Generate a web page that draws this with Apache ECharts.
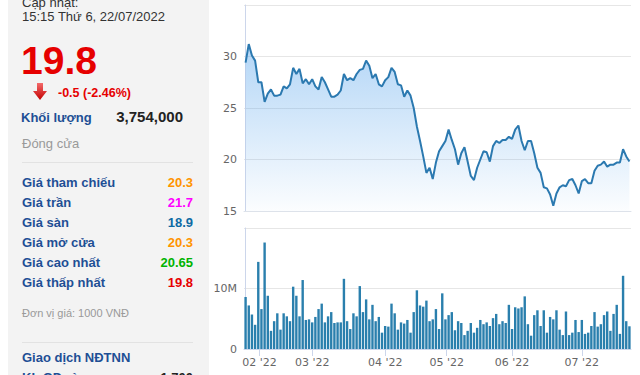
<!DOCTYPE html>
<html>
<head>
<meta charset="utf-8">
<script src="https://cdn.jsdelivr.net/npm/echarts@6/dist/echarts.min.js"></script>
<style>
  html,body{margin:0;padding:0;width:640px;height:375px;overflow:hidden;background:#fff;}
  #chart{position:absolute;left:0;top:0;width:640px;height:375px;}
  #panel{position:absolute;left:8px;top:0;width:201px;height:375px;background:#f3f3f3;}
  .t{position:absolute;white-space:nowrap;font-family:Arial,"Liberation Sans",sans-serif;}
  .lbl{font-size:13px;line-height:13px;font-weight:bold;color:#1e4f95;left:22px;}
  .val{font-size:13px;line-height:13px;font-weight:bold;right:447px;text-align:right;}
  .hr{position:absolute;left:22px;width:171px;height:1px;background:#e2e2e2;}
</style>
</head>
<body>
<div id="chart"></div>
<div id="panel"></div>
<div class="t" style="left:22px;top:-4px;font-size:13px;line-height:13px;color:#333;">Cập nhật:</div>
<div class="t" style="left:22px;top:10px;font-size:13px;line-height:13px;color:#333;">15:15 Thứ 6, 22/07/2022</div>
<div class="t" style="left:21px;top:41px;font-size:39px;line-height:39px;font-weight:bold;color:#e60000;">19.8</div>
<svg style="position:absolute;left:32px;top:82px;" width="16" height="19" viewBox="0 0 16 19">
  <defs><linearGradient id="ag" x1="0" y1="0" x2="0" y2="1"><stop offset="0" stop-color="#f36a6a"/><stop offset="1" stop-color="#c40000"/></linearGradient></defs>
  <polygon points="5,1 11,1 11,9 15,9 8,18 1,9 5,9" fill="url(#ag)"/>
</svg>
<div class="t" style="left:58px;top:86.5px;font-size:12.5px;line-height:12.5px;font-weight:bold;color:#e60000;">-0.5 (-2.46%)</div>
<div class="t lbl" style="top:111px;left:21px;">Khối lượng</div>
<div class="t" style="right:457px;top:109px;font-size:15px;line-height:15px;font-weight:bold;color:#222;">3,754,000</div>
<div class="t" style="left:22px;top:137px;font-size:13px;line-height:13px;color:#999;">Đóng cửa</div>
<div class="hr" style="top:162px;"></div>
<div class="t lbl" style="top:176px;">Giá tham chiếu</div>
<div class="t val" style="top:176px;color:#ff9400;">20.3</div>
<div class="t lbl" style="top:196px;">Giá trần</div>
<div class="t val" style="top:196px;color:#ff00ff;">21.7</div>
<div class="t lbl" style="top:216px;">Giá sàn</div>
<div class="t val" style="top:216px;color:#0e6aa3;">18.9</div>
<div class="t lbl" style="top:236px;">Giá mở cửa</div>
<div class="t val" style="top:236px;color:#ff9400;">20.3</div>
<div class="t lbl" style="top:256px;">Giá cao nhất</div>
<div class="t val" style="top:256px;color:#00b300;">20.65</div>
<div class="t lbl" style="top:276px;">Giá thấp nhất</div>
<div class="t val" style="top:276px;color:#e60000;">19.8</div>
<div class="t" style="left:22px;top:308px;font-size:11px;line-height:11px;color:#999;">Đơn vị giá: 1000 VNĐ</div>
<div class="hr" style="top:342px;"></div>
<div class="t lbl" style="top:351px;">Giao dịch NĐTNN</div>
<div class="t lbl" style="top:371px;">KL GD ròng</div>
<div class="t val" style="top:371px;color:#222;">-1,700</div>
<script>
// Daily closing price (thousand VND), trading days from late Jan 2022 to 22/07/2022
const prices = [29.4,31.2,30.1,29.6,27.5,27.5,25.6,26.4,26.8,26.2,
  26.2,26.3,27.1,26.9,27.3,28.9,28.3,28.8,27.4,27.8,
  27.3,27.8,27.1,26.8,28.0,27.5,26.8,26.1,26.1,26.3,
  26.7,28.3,27.7,27.9,27.7,28.3,28.7,28.8,29.6,29.1,
  27.9,28.3,27.3,27.1,27.7,28.0,28.9,28.5,27.3,27.2,
  26.1,26.7,26.2,25.0,23.2,21.8,20.3,18.7,19.2,18.1,
  19.7,20.8,21.3,21.8,22.9,21.9,21.0,19.5,20.6,21.2,
  19.8,18.4,18.0,19.2,20.0,20.8,20.7,19.8,21.3,21.8,
  21.6,21.9,21.9,22.2,22.0,22.9,23.3,21.8,20.9,21.8,
  21.8,20.6,19.2,18.7,17.3,17.2,16.6,15.5,16.7,17.3,
  17.5,17.4,18.0,18.1,17.5,16.7,17.9,18.1,17.7,17.7,
  18.9,19.4,19.5,19.8,19.3,19.5,19.5,19.7,19.7,21.0,
  20.3,19.8];
// Daily volume (millions of shares)
const volumes = [8.6,7.2,5.7,4.0,14.4,6.6,17.6,8.8,3.0,4.6,
  5.9,3.2,5.9,5.4,4.6,10.3,8.8,5.4,11.4,4.8,
  4.9,4.4,5.3,6.6,7.5,4.4,5.4,6.1,4.3,4.4,
  4.4,11.6,4.6,3.3,5.9,5.4,10.4,6.1,8.2,4.9,
  7.3,4.6,5.3,2.7,3.8,3.7,7.5,5.9,3.2,4.4,
  4.2,4.8,2.7,6.1,9.7,7.2,7.0,8.0,4.6,4.9,
  6.6,3.3,9.2,4.9,5.6,6.1,3.1,4.6,4.3,2.3,
  3.0,4.3,2.7,3.5,4.8,4.1,4.4,3.8,5.1,5.8,
  4.1,4.6,4.3,7.3,3.3,6.9,6.7,6.9,8.7,4.1,
  2.2,5.6,6.4,3.8,6.4,2.7,5.3,4.9,6.4,3.2,
  2.3,6.2,2.3,2.7,4.8,2.8,4.8,2.5,2.7,3.8,
  6.1,3.7,4.1,5.6,6.2,3.0,5.8,7.3,2.5,12.1,
  4.6,3.754];
// Month boundaries on the trading-day (ordinal) axis and their labels
const tickPos = [4.4, 21, 44, 63.4, 84, 106];
const tickLabels = ["02 '22", "03 '22", "04 '22", "05 '22", "06 '22", "07 '22"];
const priceTicks = {min: 15, max: 35, interval: 5};
const volTicks = {min: 0, max: 20, interval: 10};

const chart = echarts.init(document.getElementById('chart'), null, {renderer: 'svg', width: 640, height: 375});
const axisFont = {color: '#666', fontSize: 11, fontFamily: 'DejaVu Sans'};
const n = prices.length;
chart.setOption({
  animation: false,
  grid: [
    {left: 244, right: 9, top: 5, height: 206},
    {left: 244, right: 9, top: 228, height: 121}
  ],
  xAxis: [
    {gridIndex: 0, type: 'value', min: -0.5, max: n - 0.5,
     axisLine: {show: true, lineStyle: {color: '#dde2ea'}},
     axisTick: {show: false}, axisLabel: {show: false}, splitLine: {show: false}},
    {gridIndex: 1, type: 'value', min: -0.5, max: n - 0.5,
     axisLine: {show: true, lineStyle: {color: '#ccd6eb'}},
     axisTick: {show: true, customValues: tickPos, length: 7, lineStyle: {color: '#ccd6eb'}},
     axisLabel: Object.assign({customValues: tickPos, margin: 8, showMinLabel: true, showMaxLabel: true,
       formatter: function (v) {
         let best = 0;
         for (let i = 1; i < tickPos.length; i++) if (Math.abs(tickPos[i] - v) < Math.abs(tickPos[best] - v)) best = i;
         return tickLabels[best];
       }}, axisFont),
     splitLine: {show: false}}
  ],
  yAxis: [
    {gridIndex: 0, type: 'value', min: priceTicks.min, max: priceTicks.max, interval: priceTicks.interval,
     axisLine: {show: true, lineStyle: {color: '#ccd6eb'}}, axisTick: {show: false},
     axisLabel: Object.assign({showMaxLabel: false, margin: 7}, axisFont),
     splitLine: {lineStyle: {color: '#e6e6e6'}}},
    {gridIndex: 1, type: 'value', min: volTicks.min, max: volTicks.max, interval: volTicks.interval,
     axisLine: {show: true, lineStyle: {color: '#ccd6eb'}}, axisTick: {show: false},
     axisLabel: Object.assign({showMaxLabel: false, margin: 7,
       formatter: function (v) { return v === 0 ? '0' : v + 'M'; }}, axisFont),
     splitLine: {lineStyle: {color: '#e6e6e6'}}}
  ],
  series: [
    {type: 'line', xAxisIndex: 0, yAxisIndex: 0, showSymbol: false, silent: true,
     data: prices.map((p, i) => [i, p]),
     lineStyle: {color: '#2b79b0', width: 2},
     areaStyle: {origin: 'start', color: new echarts.graphic.LinearGradient(0, 0, 0, 1, [
       {offset: 0, color: 'rgba(80,160,235,0.62)'},
       {offset: 1, color: 'rgba(80,160,235,0.03)'}])}},
    {type: 'bar', xAxisIndex: 1, yAxisIndex: 1, silent: true, barWidth: 2.4,
     data: volumes.map((v, i) => [i, v]),
     itemStyle: {color: '#2a7fad'}}
  ]
});
</script>
</body>
</html>
